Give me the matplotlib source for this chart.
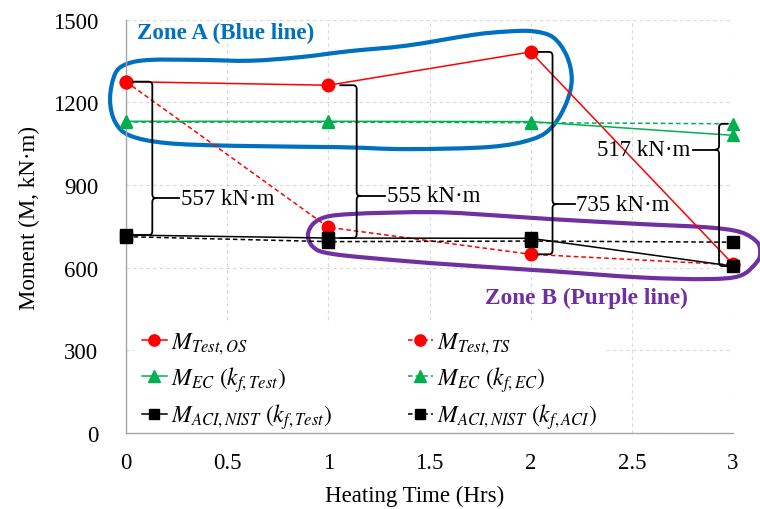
import numpy as np
import matplotlib
matplotlib.use("Agg")
import matplotlib.pyplot as plt
from matplotlib.path import Path
from matplotlib.patches import PathPatch

plt.rcParams["font.family"] = ["Liberation Serif", "DejaVu Serif"]
plt.rcParams["mathtext.fontset"] = "stix"

# ---- data -------------------------------------------------------------
hours = [0, 1, 2, 3]
m_test_os = [1275, 1262, 1383, 612]
m_test_ts = [1275, 746, 648, 610]
m_ec_test = [1131, 1131, 1130, 1080]
m_ec_ec = [1128, 1128, 1126, 1122]
m_aci_test = [718, 707, 706, 605]
m_aci_aci = [712, 694, 696, 692]

xticks = [0, 0.5, 1, 1.5, 2, 2.5, 3]
yticks = [0, 300, 600, 900, 1200, 1500]

gap_labels = ["557 kN·m", "555 kN·m", "735 kN·m", "517 kN·m"]

RED = "#FF0000"
GREEN = "#00B050"
BLACK = "#000000"
BLUE = "#0070C0"
PURPLE = "#7030A0"

fig = plt.figure(figsize=(7.6, 5.1), dpi=100)
ax = fig.add_axes([0.1658, 0.1496, 0.7987, 0.8098])

ax.set_xlim(0, 3)
ax.set_ylim(0, 1500)
ax.set_xticks(xticks)
ax.set_xticklabels(["0", "0.5", "1", "1.5", "2", "2.5", "3"])
ax.set_yticks(yticks)
ax.tick_params(axis="both", length=0, labelsize=16.5)
ax.tick_params(axis="y", pad=20)
ax.tick_params(axis="x", pad=14)
ax.grid(True, color="#d9d9d9", linestyle=(0, (3, 3)), linewidth=0.8)
ax.set_axisbelow(True)
for s in ["top", "right"]:
    ax.spines[s].set_visible(False)
for s in ["left", "bottom"]:
    ax.spines[s].set_color("#a6a6a6")
    ax.spines[s].set_linewidth(1.0)

ax.set_xlabel("Heating Time (Hrs)", fontsize=16.5)
ax.set_ylabel("Moment (M, kN·m)", fontsize=16.5)
ax.xaxis.set_label_coords(0.476, -0.125)
ax.yaxis.set_label_coords(-0.142, 0.523)

lw = 1.1
h_os, = ax.plot(hours, m_test_os, "-", color=RED, lw=lw, marker="o", ms=9,
                label=r"$M_{Test,OS}$", clip_on=False, zorder=4)
h_ts, = ax.plot(hours, m_test_ts, "--", color=RED, lw=lw, marker="o", ms=9,
                label=r"$M_{Test,TS}$", clip_on=False, zorder=3,
                dashes=(3, 2))
h_ect, = ax.plot(hours, m_ec_test, "-", color=GREEN, lw=lw, marker="^", ms=9,
                 label=r"$M_{EC}\ (k_{f,Test})$", clip_on=False, zorder=4)
h_ece, = ax.plot(hours, m_ec_ec, "--", color=GREEN, lw=lw, marker="^", ms=9,
                 label=r"$M_{EC}\ (k_{f,EC})$", clip_on=False, zorder=3,
                 dashes=(3, 2))
h_acit, = ax.plot(hours, m_aci_test, "-", color=BLACK, lw=lw, marker="s", ms=8.5,
                  label=r"$M_{ACI,NIST}\ (k_{f,Test})$", clip_on=False, zorder=6)
h_acia, = ax.plot(hours, m_aci_aci, "--", color=BLACK, lw=lw, marker="s", ms=8.5,
                  label=r"$M_{ACI,NIST}\ (k_{f,ACI})$", clip_on=False, zorder=5,
                  dashes=(3, 2))

leg = ax.legend(handles=[h_os, h_ect, h_acit, h_ts, h_ece, h_acia],
                ncol=2, loc="lower left", bbox_to_anchor=(-0.005, -0.042),
                fontsize=17, frameon=True, framealpha=1, edgecolor="none",
                facecolor="white", handlelength=1.05, handletextpad=0.2,
                columnspacing=3.2, labelspacing=0.33, borderpad=0.3,
                markerscale=0.9)
leg.set_zorder(2)


# ---- curly braces between series --------------------------------------
def brace(x_hook, x_v, y_top, y_bot, y_mid, x_end, side=1):
    """Bracket with hooks at both ends and a notch leading to a label."""
    dx = 0.018 * side
    dy = 14
    verts = [(x_hook, y_top), (x_v - dx, y_top), (x_v, y_top), (x_v, y_top - dy),
             (x_v, y_mid + dy), (x_v, y_mid), (x_v + dx, y_mid),
             (x_v, y_mid), (x_v, y_mid - dy),
             (x_v, y_bot + dy), (x_v, y_bot), (x_v - dx, y_bot), (x_hook, y_bot)]
    codes = [Path.MOVETO, Path.LINETO, Path.CURVE3, Path.CURVE3,
             Path.LINETO, Path.CURVE3, Path.CURVE3,
             Path.CURVE3, Path.CURVE3,
             Path.LINETO, Path.CURVE3, Path.CURVE3, Path.LINETO]
    ax.add_patch(PathPatch(Path(verts, codes), fill=False, ec="black", lw=1.3,
                           clip_on=False, zorder=7, capstyle="round",
                           joinstyle="round"))
    ax.plot([x_v + dx, x_end], [y_mid, y_mid], color="black", lw=1.3,
            clip_on=False, zorder=7)


brace(0.035, 0.130, m_test_os[0], m_aci_test[0], 852, 0.262)
ax.text(0.272, 852, gap_labels[0], fontsize=16.5, va="center", ha="left", zorder=8)

brace(1.058, 1.140, m_test_os[1], m_aci_test[1], 860, 1.282)
ax.text(1.292, 860, gap_labels[1], fontsize=16.5, va="center", ha="left", zorder=8)

brace(2.037, 2.108, m_test_os[2], m_test_ts[2], 830, 2.217)
ax.text(2.226, 830, gap_labels[2], fontsize=16.5, va="center", ha="left", zorder=8)

brace(2.975, 2.931, m_ec_ec[3], m_aci_test[3], 1028, 2.80, side=-1)
ax.text(2.790, 1028, gap_labels[3], fontsize=16.5, va="center", ha="right", zorder=8)


# ---- hand-drawn zone outlines ------------------------------------------
def smooth_closed(points):
    """Closed Catmull-Rom curve through points, as cubic Bezier path."""
    p = np.asarray(points, dtype=float)
    sx, sy = 202.3, 0.2753
    q = p * [sx, sy]
    n = len(q)
    verts = [q[0]]
    codes = [Path.MOVETO]
    for i in range(n):
        p0, p1, p2, p3 = q[i - 1], q[i], q[(i + 1) % n], q[(i + 2) % n]
        c1 = p1 + (p2 - p0) / 6
        c2 = p2 - (p3 - p1) / 6
        verts += [c1, c2, p2]
        codes += [Path.CURVE4] * 3
    verts = np.array(verts) / [sx, sy]
    return Path(verts, codes)


zone_a = [(-0.079, 1212), (-0.054, 1303), (0.003, 1339), (0.119, 1354),
          (0.366, 1354), (0.613, 1351), (0.860, 1364), (1.107, 1386),
          (1.388, 1406), (1.715, 1445), (1.882, 1457), (2.012, 1458),
          (2.111, 1436), (2.178, 1369), (2.203, 1285), (2.178, 1201),
          (2.111, 1115), (2.012, 1067), (1.799, 1038), (1.388, 1030),
          (1.058, 1037), (0.529, 1042), (0.201, 1052), (0.020, 1079),
          (-0.054, 1129)]
zone_b = [(0.901, 728), (0.959, 776), (1.107, 794), (1.518, 801),
          (1.849, 788), (2.096, 776), (2.541, 758), (2.870, 746),
          (3.035, 729), (3.118, 693), (3.134, 656), (3.118, 620),
          (3.035, 570), (2.870, 558), (2.541, 564), (2.096, 587),
          (1.684, 607), (1.354, 625), (1.023, 649), (0.924, 675)]

ax.add_patch(PathPatch(smooth_closed(zone_a), fill=False, ec=BLUE, lw=3.0,
                       clip_on=False, zorder=2))
ax.add_patch(PathPatch(smooth_closed(zone_b), fill=False, ec=PURPLE, lw=3.0,
                       clip_on=False, zorder=2))

ax.text(0.053, 1454, "Zone A (Blue line)", color=BLUE, fontsize=16.6,
        fontweight="bold", va="center", ha="left", zorder=8)
ax.text(1.775, 493, "Zone B (Purple line)", color=PURPLE, fontsize=16.8,
        fontweight="bold", va="center", ha="left", zorder=8)

fig.savefig("out.png", dpi=100)
